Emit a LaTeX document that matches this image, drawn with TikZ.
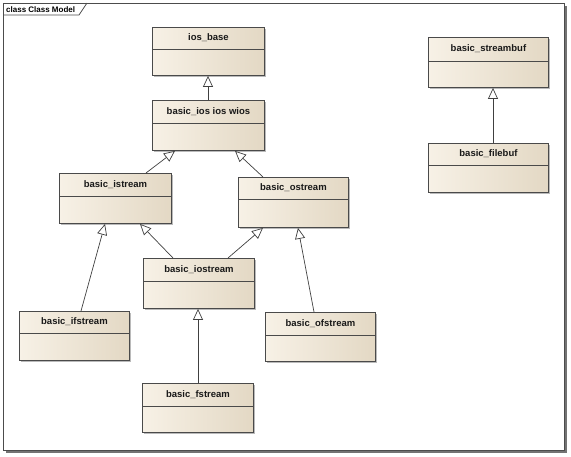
\documentclass[tikz,border=0pt]{standalone}
\usepackage{fontspec}
\setmainfont{Liberation Sans}
\usetikzlibrary{arrows.meta,calc,shadows}
\definecolor{boxleft}{HTML}{F7F1E6}
\definecolor{boxright}{HTML}{E3D8C4}
\definecolor{edge}{HTML}{4A4A4A}
\tikzset{
  cls/.style={draw=edge, line width=0.9pt, rectangle, anchor=north west, inner sep=0pt,
    left color=boxleft, right color=boxright,
    drop shadow={shadow xshift=2pt, shadow yshift=-2pt, fill=black!45, opacity=0.6}},
  clstitle/.style={font=\bfseries\fontsize{9.5}{11}\selectfont, text=black!90, inner sep=0pt},
  sepline/.style={draw=edge, line width=0.8pt},
  gen/.style={draw=black!75, line width=0.7pt, -{Triangle[length=11pt,width=10pt,fill=white,line width=0.7pt]}}
}
% \umlbox{name}{x1}{y1}{x2}{y2}{sep}{text}
\newcommand{\umlbox}[7]{%
  \node[cls, minimum width=#4pt-#2pt, minimum height=#5pt-#3pt] (#1) at (#2,#3) {};
  \draw[sepline] ($(#1.north west)+(0,#6-#3)$) -- ($(#1.north east)+(0,#6-#3)$);
  \node[clstitle] (#1-t) at ($(#1.north)+(0,{(#6-#3)/2})$) {#7};
}
\begin{document}
\begin{tikzpicture}[x=1pt,y=-1pt]
\useasboundingbox[fill=white] (0,0) rectangle (571,456);
% frame
\fill[black!55] (5.5,5.5) rectangle (566.5,452.5);
\draw[fill=white, draw=black!70, line width=0.8pt] (3,3) rectangle (564,450);
\draw[black!70, line width=0.7pt] (3,15) -- (79,15) -- (87,3);
\node[font=\bfseries\fontsize{8}{9}\selectfont, anchor=west, inner sep=0pt] (frametitle) at (6,9.5) {class Class Model};
% boxes
\umlbox{iosbase}{152}{27}{264}{75}{49}{ios\_base}
\umlbox{basicios}{152}{100}{264}{150}{123}{basic\_ios ios wios}
\umlbox{istream}{59}{173}{171}{223}{196}{basic\_istream}
\umlbox{ostream}{238}{177}{348}{227}{199}{basic\_ostream}
\umlbox{iostream}{143}{258}{254}{308}{281}{basic\_iostream}
\umlbox{ifstream}{19}{311}{129}{360}{333}{basic\_ifstream}
\umlbox{ofstream}{265}{312}{375}{361}{335}{basic\_ofstream}
\umlbox{fstream}{142}{383}{253}{432}{406}{basic\_fstream}
\umlbox{streambuf}{428}{37}{548}{87}{61}{basic\_streambuf}
\umlbox{filebuf}{428}{143}{548}{192}{165}{basic\_filebuf}
% generalizations
\draw[gen] ($(basicios.north west)+(56,0)$) -- ($(iosbase.south west)+(56,0)$);
\draw[gen] ($(istream.north west)+(87,0)$) -- ($(basicios.south west)+(23,0)$);
\draw[gen] ($(ostream.north west)+(25,0)$) -- ($(basicios.south west)+(83,0)$);
\draw[gen] ($(iostream.north west)+(30,0)$) -- ($(istream.south west)+(81,0)$);
\draw[gen] ($(iostream.north west)+(85,0)$) -- ($(ostream.south west)+(25,0)$);
\draw[gen] ($(ifstream.north west)+(62,0)$) -- ($(istream.south west)+(46,0)$);
\draw[gen] ($(ofstream.north west)+(49,0)$) -- ($(ostream.south west)+(60,0)$);
\draw[gen] ($(fstream.north west)+(56,0)$) -- ($(iostream.south west)+(55,0)$);
\draw[gen] ($(filebuf.north west)+(65,0)$) -- ($(streambuf.south west)+(65,0)$);
\end{tikzpicture}
\end{document}
